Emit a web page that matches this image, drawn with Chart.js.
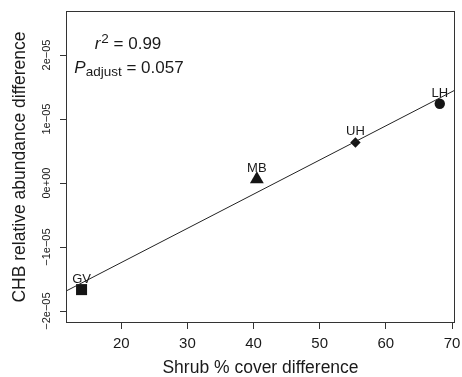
<!DOCTYPE html>
<html>
<head>
<meta charset="utf-8">
<script src="https://cdn.jsdelivr.net/npm/chart.js@4.4.1/dist/chart.umd.min.js"></script>
<style>
    html, body { margin: 0; padding: 0; background: #fff; }
    #wrap { width: 462px; height: 377px; }
</style>
</head>
<body>
<div id="wrap"><canvas id="chart" width="462" height="377"></canvas></div>
<script>
// ==================== DATA ====================
const sites = ["GV", "MB", "UH", "LH"];
const shrubCover = [14.0, 40.5, 55.4, 68.15];
const chbAbundance = [-1.664e-5, 0.06e-5, 0.634e-5, 1.239e-5];
const markerShapes = ["rect", "triangle", "rectRot", "circle"];

const xTicks = [20, 30, 40, 50, 60, 70];
const yTicks = [-2e-5, -1e-5, 0, 1e-5, 2e-5];
const yTickLabels = ["\u22122e\u221205", "\u22121e\u221205", "0e+00", "1e\u221205", "2e\u221205"];
const xRange = [11.8, 70.3];
const yRange = [-2.17e-5, 2.672e-5];

const statsLabels = { r2: "0.99", pAdjust: "0.057" };

// ==================== STYLE ====================
const FONT = "'Liberation Sans', Arial, Helvetica, sans-serif";
const INK = "#1a1a1a";
const markerSizes = [7.8, 8, 5.2, 5.2];

// least squares fit, drawn across the full x range like abline()
function linearFit(xs, ys) {
    const n = xs.length;
    const mx = xs.reduce((a, b) => a + b, 0) / n;
    const my = ys.reduce((a, b) => a + b, 0) / n;
    let sxy = 0, sxx = 0;
    for (let i = 0; i < n; i++) {
        sxy += (xs[i] - mx) * (ys[i] - my);
        sxx += (xs[i] - mx) * (xs[i] - mx);
    }
    const b = sxy / sxx;
    return { a: my - b * mx, b };
}
const fit = linearFit(shrubCover, chbAbundance);
const fitLine = xRange.map(x => ({ x, y: fit.a + fit.b * x }));

// ==================== PLUGINS ====================
const frame = {
    id: "frame",
    afterDraw(chart) {
        const { ctx, chartArea: a } = chart;
        ctx.save();
        ctx.strokeStyle = "#333";
        ctx.lineWidth = 1;
        ctx.strokeRect(a.left - 0.5, a.top - 0.5, a.right - a.left + 1, a.bottom - a.top + 1);
        ctx.restore();
    }
};

const yLabels = {
    id: "yLabels",
    afterDraw(chart) {
        const { ctx } = chart;
        const ys = chart.scales.y;
        ctx.save();
        ctx.fillStyle = INK;
        ctx.font = "11px " + FONT;
        ctx.textAlign = "center";
        ctx.textBaseline = "middle";
        yTicks.forEach((v, i) => {
            ctx.save();
            ctx.translate(47, ys.getPixelForValue(v));
            ctx.rotate(-Math.PI / 2);
            ctx.fillText(yTickLabels[i], 0, 0);
            ctx.restore();
        });
        ctx.restore();
    }
};

const siteLabels = {
    id: "siteLabels",
    afterDatasetsDraw(chart) {
        const { ctx } = chart;
        const meta = chart.getDatasetMeta(1);
        ctx.save();
        ctx.fillStyle = INK;
        ctx.font = "13px " + FONT;
        ctx.textAlign = "center";
        ctx.textBaseline = "alphabetic";
        meta.data.forEach((pt, i) => {
            ctx.fillText(sites[i], pt.x, pt.y - 7);
        });
        ctx.restore();
    }
};

function drawRich(ctx, parts, cx, baseline) {
    let total = 0;
    for (const p of parts) {
        ctx.font = p.font;
        total += ctx.measureText(p.t).width + (p.gap || 0);
    }
    let x = cx - total / 2;
    for (const p of parts) {
        ctx.font = p.font;
        ctx.fillText(p.t, x, baseline + (p.dy || 0));
        x += ctx.measureText(p.t).width + (p.gap || 0);
    }
}

const stats = {
    id: "stats",
    afterDraw(chart) {
        const { ctx } = chart;
        ctx.save();
        ctx.fillStyle = INK;
        ctx.textAlign = "left";
        ctx.textBaseline = "alphabetic";
        const main = "17px " + FONT;
        const ital = "italic 17px " + FONT;
        const small = "13.5px " + FONT;
        drawRich(ctx, [
            { t: "r", font: ital, gap: 1 },
            { t: "2", font: small, dy: -6 },
            { t: " = " + statsLabels.r2, font: main }
        ], 128, 49);
        drawRich(ctx, [
            { t: "P", font: ital },
            { t: "adjust", font: small, dy: 3 },
            { t: " = " + statsLabels.pAdjust, font: main }
        ], 129, 72.5);
        ctx.restore();
    }
};

// ==================== CHART ====================
const axisGrid = {
    display: true,
    drawOnChartArea: false,
    drawTicks: true,
    tickLength: 7,
    tickWidth: 1,
    tickColor: "#333",
    color: "#333",
};

new Chart(document.getElementById("chart"), {
    type: "scatter",
    data: {
        datasets: [
            {
                type: "line",
                data: fitLine,
                borderColor: "#222",
                borderWidth: 1,
                pointRadius: 0,
                fill: false,
            },
            {
                data: sites.map((s, i) => ({ x: shrubCover[i], y: chbAbundance[i] })),
                pointStyle: markerShapes,
                pointRadius: markerSizes,
                pointHoverRadius: markerSizes,
                backgroundColor: "#151515",
                borderColor: "#151515",
                borderWidth: 0,
            }
        ]
    },
    options: {
        responsive: false,
        animation: false,
        devicePixelRatio: 1,
        layout: { padding: { left: 0, top: 12, right: 7, bottom: 0 } },
        plugins: {
            legend: { display: false },
            tooltip: { enabled: false },
        },
        scales: {
            x: {
                type: "linear",
                min: xRange[0],
                max: xRange[1],
                afterBuildTicks: s => { s.ticks = xTicks.map(v => ({ value: v })); },
                afterFit: s => { s.height = 55; s.paddingLeft = 0; s.paddingRight = 0; },
                grid: axisGrid,
                border: { display: false },
                ticks: {
                    autoSkip: false,
                    maxRotation: 0,
                    padding: 6,
                    color: INK,
                    font: { family: FONT, size: 15 },
                    callback: v => String(v),
                },
                title: {
                    display: true,
                    text: "Shrub % cover difference",
                    color: INK,
                    font: { family: FONT, size: 17.5, lineHeight: 1 },
                    padding: { top: 0, bottom: 0 },
                },
            },
            y: {
                type: "linear",
                min: yRange[0],
                max: yRange[1],
                afterBuildTicks: s => { s.ticks = yTicks.map(v => ({ value: v })); },
                afterFit: s => { s.width = 67; s.paddingTop = 0; s.paddingBottom = 0; },
                grid: axisGrid,
                border: { display: false },
                ticks: { display: false },
                title: {
                    display: true,
                    text: "CHB relative abundance difference",
                    color: INK,
                    font: { family: FONT, size: 17.5, lineHeight: 1 },
                    padding: { top: 11.5, bottom: 0 },
                },
            },
        },
    },
    plugins: [frame, yLabels, siteLabels, stats],
});
</script>
</body>
</html>
